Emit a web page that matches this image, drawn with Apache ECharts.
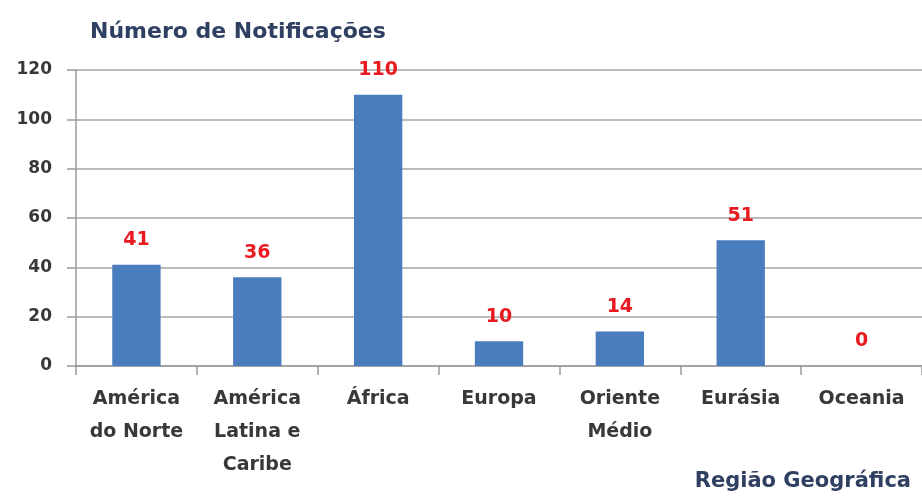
<!DOCTYPE html>
<html><head><meta charset="utf-8">
<script src="https://cdn.jsdelivr.net/npm/echarts@6/dist/echarts.min.js"></script>
<style>html,body{margin:0;padding:0;background:#fff}#c{width:922px;height:497px}</style>
</head><body><div id="c"></div>
<script>
const categories = ["América\ndo Norte", "América\nLatina e\nCaribe", "África", "Europa", "Oriente\nMédio", "Eurásia", "Oceania"];
const notificacoes = [41, 36, 110, 10, 14, 51, 0];
const yTicks = { min: 0, max: 120, interval: 20 };
const yTitle = "Número de Notificações";
const xTitle = "Região Geográfica";

const FONT = "DejaVu Sans";
const chart = echarts.init(document.getElementById('c'), null, { renderer: 'canvas' });
chart.setOption({
  animation: false,
  backgroundColor: '#ffffff',
  title: [
    { text: yTitle, left: 85, top: 16, textStyle: { fontFamily: FONT, fontSize: 22, fontWeight: 'bold', color: '#2F4063' } },
    { text: xTitle, right: 6, top: 466, textStyle: { fontFamily: FONT, fontSize: 21, fontWeight: 'bold', color: '#2F4063' } }
  ],
  grid: { left: 76, right: 0, top: 70, bottom: 131, containLabel: false },
  xAxis: {
    type: 'category',
    data: categories,
    axisLine: { show: true, lineStyle: { color: '#9a9a9a', width: 1.5 } },
    axisTick: { show: true, length: 9, alignWithLabel: false, lineStyle: { color: '#9a9a9a', width: 1.5 } },
    axisLabel: { interval: 0, margin: 17, fontFamily: FONT, fontSize: 19, fontWeight: 'bold', color: '#383838', lineHeight: 33 }
  },
  yAxis: {
    type: 'value',
    min: yTicks.min, max: yTicks.max, interval: yTicks.interval,
    axisLine: { show: true, lineStyle: { color: '#9a9a9a', width: 1.5 } },
    axisTick: { show: true, length: 9, lineStyle: { color: '#9a9a9a', width: 1.5 } },
    splitLine: { show: true, lineStyle: { color: '#a6a6a6', width: 1.5 } },
    axisLabel: { margin: 24, fontFamily: FONT, fontSize: 17, fontWeight: 'bold', color: '#383838' }
  },
  series: [{
    type: 'bar',
    data: notificacoes,
    barWidth: '40%',
    itemStyle: { color: '#4A7DBE' },
    label: { show: true, position: 'top', distance: 15, fontFamily: FONT, fontSize: 19, fontWeight: 'bold', color: '#E8191F' }
  }]
});
</script>
</body></html>
